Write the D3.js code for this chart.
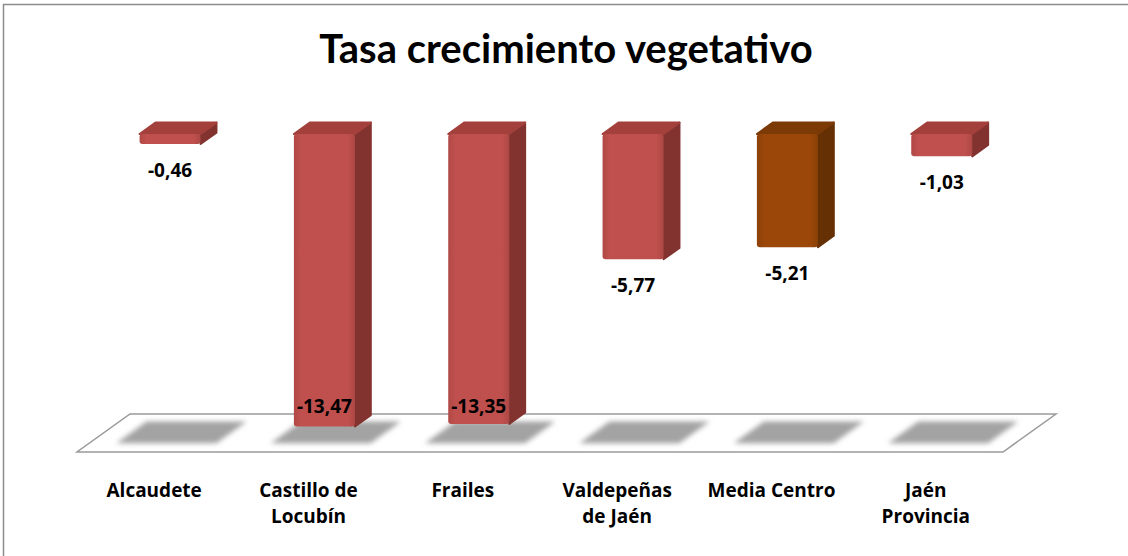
<!DOCTYPE html>
<html>
<head>
<meta charset="utf-8">
<script src="https://cdn.jsdelivr.net/npm/d3@7"></script>
<style>
  body { margin: 0; background: #fff; }
  text { font-family: "Open Sans", Lato, sans-serif; font-weight: bold; fill: #000; }
  text.title { font-family: Lato, "Open Sans", sans-serif; }
</style>
</head>
<body>
<svg width="1128" height="556"></svg>
<script>
// datos
var categories = ["Alcaudete", "Castillo de\nLocubín", "Frailes", "Valdepeñas\nde Jaén", "Media Centro", "Jaén\nProvincia"]
var values = [-0.46, -13.47, -13.35, -5.77, -5.21, -1.03]
var highlight = ["Media Centro"]
var title = "Tasa crecimiento vegetativo"

var svg = d3.select("svg")

// marco (solo se ven arriba e izquierda)
svg.append("rect")
    .attr("x", 3.5).attr("y", 4.5)
    .attr("width", 1140).attr("height", 570)
    .attr("fill", "none")
    .attr("stroke", "#8c8c8c")
    .attr("stroke-width", 1.5)

svg.append("text")
    .attr("class", "title")
    .attr("x", 566).attr("y", 63)
    .attr("text-anchor", "middle")
    .style("font-size", "40px")
    .text(title)

// escalas: borde frontal del suelo
var x = d3.scaleBand()
    .domain(categories)
    .range([77, 1003])

var y = d3.scaleLinear()
    .domain([0, -14])
    .range([134, 438])

// profundidad del suelo (desplazamiento hacia atras)
var depthX = 53, depthY = -38
var floorY = 452
var barFront = 0.3, barBack = 0.6
var barWidth = 61

var colors = {
  normal: { front: "#c0504d", side: "#83332f", top: "#a3403c" },
  high: { front: "#9a4709", side: "#643004", top: "#7b3a06" }
}

var defs = svg.append("defs")
defs.append("filter").attr("id", "blur")
    .attr("x", "-20%").attr("y", "-50%").attr("width", "140%").attr("height", "200%")
  .append("feGaussianBlur").attr("stdDeviation", 2.5)

function gradient(id, c) {
  var g = defs.append("linearGradient").attr("id", id)
      .attr("x1", "0").attr("x2", "1").attr("y1", "0").attr("y2", "0")
  g.append("stop").attr("offset", "0").attr("stop-color", d3.rgb(c).darker(0.25))
  g.append("stop").attr("offset", "0.12").attr("stop-color", c)
  g.append("stop").attr("offset", "0.88").attr("stop-color", c)
  g.append("stop").attr("offset", "1").attr("stop-color", d3.rgb(c).darker(0.3))
}
gradient("frontNormal", colors.normal.front)
gradient("frontHigh", colors.high.front)

// suelo
var x0 = x.range()[0], x1 = x.range()[1]
svg.append("polygon")
    .attr("points", [
      [x0, floorY], [x1, floorY],
      [x1 + depthX, floorY + depthY], [x0 + depthX, floorY + depthY]
    ].join(" "))
    .attr("fill", "#fff")
    .attr("stroke", "#9a9a9a")
    .attr("stroke-width", 1.5)

// sombras sobre el suelo
var shadowW = 100, sd0 = 0.23, sd1 = 0.8
svg.append("g").selectAll("polygon")
  .data(categories)
  .join("polygon")
    .attr("points", function(d) {
      var c = x(d) + x.bandwidth() / 2
      return [
        [c - shadowW / 2 + sd0 * depthX, floorY + sd0 * depthY],
        [c + shadowW / 2 + sd0 * depthX, floorY + sd0 * depthY],
        [c + shadowW / 2 + sd1 * depthX, floorY + sd1 * depthY],
        [c - shadowW / 2 + sd1 * depthX, floorY + sd1 * depthY]
      ].join(" ")
    })
    .attr("fill", "#a3a3a3")
    .attr("filter", "url(#blur)")

// barras 3D colgando desde cero
var ddx = (barBack - barFront) * depthX, ddy = (barBack - barFront) * depthY
var bars = svg.append("g").selectAll("g")
  .data(categories.map(function(c, i) { return { cat: c, value: values[i] } }))
  .join("g")

function bx(d) { return x(d.cat) + x.bandwidth() / 2 - barWidth / 2 + barFront * depthX }
function pal(d) { return highlight.indexOf(d.cat) >= 0 ? colors.high : colors.normal }

bars.append("polygon") // lateral
    .attr("points", function(d) {
      var l = bx(d) + barWidth, t = y(0), b = y(d.value)
      return [[l, t], [l + ddx, t + ddy], [l + ddx, b + ddy], [l, b]].join(" ")
    })
    .attr("fill", function(d) { return pal(d).side })
    .attr("stroke", function(d) { return pal(d).side })
    .attr("stroke-linejoin", "round")
    .attr("stroke-width", 2)

bars.append("polygon") // tapa
    .attr("points", function(d) {
      var l = bx(d), t = y(0)
      return [[l, t], [l + ddx, t + ddy], [l + barWidth + ddx, t + ddy], [l + barWidth, t]].join(" ")
    })
    .attr("fill", function(d) { return pal(d).top })
    .attr("stroke", function(d) { return pal(d).top })
    .attr("stroke-linejoin", "round")
    .attr("stroke-width", 2)

bars.append("rect") // frente
    .attr("x", bx)
    .attr("y", y(0))
    .attr("width", barWidth)
    .attr("height", function(d) { return y(d.value) - y(0) })
    .attr("rx", 3)
    .attr("fill", function(d) { return highlight.indexOf(d.cat) >= 0 ? "url(#frontHigh)" : "url(#frontNormal)" })

// etiquetas de valor
var fmt = function(v) { return d3.format(".2f")(v).replace(".", ",").replace("−", "-") }
bars.append("text")
    .attr("x", function(d) { return bx(d) + barWidth / 2 })
    .attr("y", function(d) { return Math.min(y(d.value) + 33, 413) })
    .attr("text-anchor", "middle")
    .style("font-size", "19px")
    .text(function(d) { return fmt(d.value) })

// etiquetas de categoria
var cats = svg.append("g").selectAll("text")
  .data(categories)
  .join("text")
    .attr("x", function(d) { return x(d) + x.bandwidth() / 2 })
    .attr("y", 497)
    .attr("text-anchor", "middle")
    .style("font-size", "19px")

cats.selectAll("tspan")
  .data(function(d) { return d.split("\n") })
  .join("tspan")
    .attr("x", function() { return d3.select(this.parentNode).attr("x") })
    .attr("dy", function(d, i) { return i ? 26 : 0 })
    .text(function(d) { return d })
</script>
</body>
</html>
